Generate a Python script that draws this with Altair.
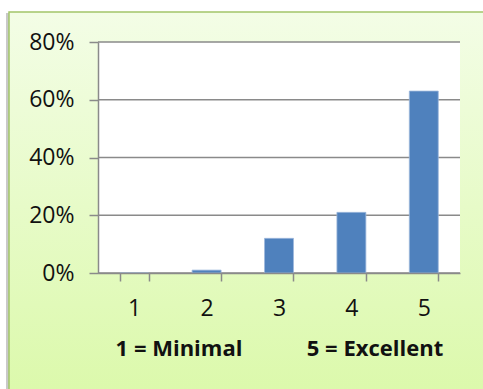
import altair as alt
import pandas as pd

# Survey ratings (1 = Minimal ... 5 = Excellent) and share of responses
ratings = ["1", "2", "3", "4", "5"]
shares = [0.0, 0.01, 0.12, 0.21, 0.63]
y_ticks = [0.0, 0.2, 0.4, 0.6, 0.8]
scale_notes = ["1 = Minimal", "5 = Excellent"]

W, H = 362, 231
FONT = "Open Sans"
GRID = "#8a8a8a"

bars_df = pd.DataFrame({"rating": ratings, "pct": shares})
grid_df = pd.DataFrame({"pct": y_ticks})
one_row = pd.DataFrame({"k": [0]})

y_enc = alt.Y(
    "pct:Q",
    scale=alt.Scale(domain=[0, 0.8], nice=False, zero=True),
    axis=alt.Axis(
        values=y_ticks, format=".0%", title=None, grid=False,
        domainColor=GRID, domainWidth=1.5, tickColor=GRID, tickWidth=1.5,
        tickSize=9, labelPadding=15, labelFontSize=23, labelFont=FONT,
        labelColor="#111111", zindex=1,
    ),
)

# light-green card with a soft gradient and a faint shadow on its left edge
shadow = alt.Chart(one_row).mark_rect(fill="#c9c9c9").encode(
    x=alt.value(-92), x2=alt.value(420), y=alt.value(-29), y2=alt.value(360)
)
card = alt.Chart(one_row).mark_rect(
    fill=alt.Gradient(
        gradient="linear", x1=0, x2=0, y1=0, y2=1,
        stops=[alt.GradientStop(color="#f3fde6", offset=0),
               alt.GradientStop(color="#dbf9aa", offset=1)],
    ),
    stroke="#a3c56a", strokeWidth=1.5,
).encode(x=alt.value(-89), x2=alt.value(420), y=alt.value(-30), y2=alt.value(360))

plot_bg = alt.Chart(one_row).mark_rect(fill="white").encode(
    x=alt.value(0), x2=alt.value(W), y=alt.value(0), y2=alt.value(H)
)

grid = alt.Chart(grid_df).mark_rule(color=GRID, strokeWidth=1.5).encode(
    y=y_enc, x=alt.value(0), x2=alt.value(W)
)

bars = alt.Chart(bars_df).mark_bar(
    color="#4f81bd", stroke="#9db7dc", strokeWidth=0.8
).encode(
    x=alt.X(
        "rating:N",
        sort=ratings,
        scale=alt.Scale(paddingInner=0.6, paddingOuter=0.3),
        axis=alt.Axis(
            title=None, labelAngle=0, tickBand="extent",
            domainColor=GRID, domainWidth=1.5, tickColor=GRID, tickWidth=1.5,
            tickSize=8, labelPadding=16, labelFontSize=23, labelFont=FONT,
            labelColor="#111111", zindex=1,
        ),
    ),
    y=y_enc,
)

note_left = alt.Chart(one_row).mark_text(
    text=scale_notes[0], font=FONT, fontSize=22, fontWeight="bold",
    color="#111111", align="center", baseline="alphabetic",
).encode(x=alt.value(81), y=alt.value(314))
note_right = alt.Chart(one_row).mark_text(
    text=scale_notes[1], font=FONT, fontSize=22, fontWeight="bold",
    color="#111111", align="center", baseline="alphabetic",
).encode(x=alt.value(277), y=alt.value(314))

chart = alt.layer(
    shadow, card, plot_bg, grid, bars, note_left, note_right
).properties(
    width=W, height=H,
    autosize=alt.AutoSizeParams(type="none"),
    padding={"left": 98, "top": 42, "right": 23, "bottom": 116},
    background="white",
).configure_view(stroke=None)

chart.save("out.html", embed_options={"renderer": "svg", "actions": False})
